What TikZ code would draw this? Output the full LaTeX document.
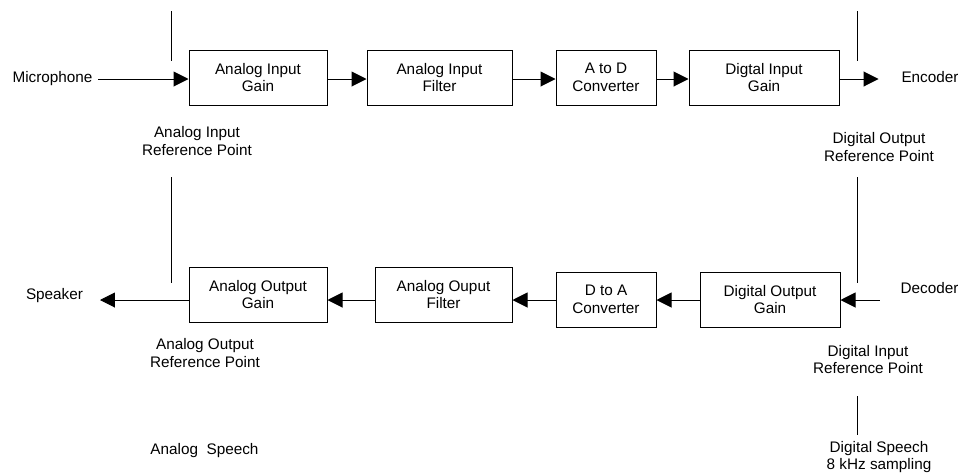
\documentclass[tikz,border=0pt]{standalone}
\usepackage{fontspec}
\setmainfont{Liberation Sans}
\usetikzlibrary{arrows.meta}
\begin{document}
\begin{tikzpicture}[x=1pt,y=-1pt,
  every node/.style={font=\fontsize{15.3}{17.5}\selectfont, inner sep=0pt, align=center},
  block/.style={draw, line width=1pt, minimum height=55pt},
  conn/.style={line width=1pt, -{Triangle[length=15pt,width=15pt]}},
  refline/.style={line width=1pt}]
\useasboundingbox (0,0) rectangle (958,472);

% signal rows
\coordinate (toprow) at (0,79);
\coordinate (botrow) at (0,300);

% input chain
\node[block, minimum width=138pt] (aig) at (258,77.5) {Analog Input\\Gain};
\node[block, minimum width=145pt] (aif) at (439.5,77.5) {Analog Input\\Filter};
\node[block, minimum width=100pt] (adc) at (606,77.5) {A to D\\Converter};
\node[block, minimum width=150pt] (dig) at (764,77.5) {Digtal Input\\Gain};

% output chain
\node[block, minimum width=138pt] (aog) at (258,294.5) {Analog Output\\Gain};
\node[block, minimum width=137pt] (aof) at (443.5,294.5) {Analog Ouput\\Filter};
\node[block, minimum width=100pt] (dac) at (606,299.5) {D to A\\Converter};
\node[block, minimum width=140pt] (dog) at (770,299.5) {Digital Output\\Gain};

% end points
\node[outer xsep=6pt] (mic) at (52.5,79) {Microphone};
\node[outer xsep=23pt] (enc) at (930,77) {Encoder};
\node[outer xsep=17pt] (spk) at (54.5,296) {Speaker};
\node[outer xsep=21pt] (dec) at (929.5,288) {Decoder};

% input connectors
\draw[conn] (mic.east |- toprow) -- (aig.west |- toprow);
\draw[conn] (aig.east |- toprow) -- (aif.west |- toprow);
\draw[conn] (aif.east |- toprow) -- (adc.west |- toprow);
\draw[conn] (adc.east |- toprow) -- (dig.west |- toprow);
\draw[conn] (dig.east |- toprow) -- (enc.west |- toprow);

% output connectors
\draw[conn] (dec.west |- botrow) -- (dog.east |- botrow);
\draw[conn] (dog.west |- botrow) -- (dac.east |- botrow);
\draw[conn] (dac.west |- botrow) -- (aof.east |- botrow);
\draw[conn] (aof.west |- botrow) -- (aog.east |- botrow);
\draw[conn] (aog.west |- botrow) -- (spk.east |- botrow);

% reference point markers
\coordinate (la1) at (171.5,11);  \coordinate (la2) at (171.5,61);
\coordinate (lb1) at (171.5,177); \coordinate (lb2) at (171.5,283);
\coordinate (ra1) at (857,11);    \coordinate (ra2) at (857,61);
\coordinate (rb1) at (857,177);   \coordinate (rb2) at (857,283);
\coordinate (rc1) at (857,396);   \coordinate (rc2) at (857,435);
\draw[refline] (la1) -- (la2);
\draw[refline] (lb1) -- (lb2);
\draw[refline] (ra1) -- (ra2);
\draw[refline] (rb1) -- (rb2);
\draw[refline] (rc1) -- (rc2);

% labels
\node (airp) at (197,141) {Analog Input\\Reference Point};
\node (dorp) at (879,147) {Digital Output\\Reference Point};
\node (aorp) at (205,353) {Analog Output\\Reference Point};
\node (dirp) at (868,359.5) {Digital Input\\Reference Point};
\node (aspeech) at (204.5,451) {Analog\ \ Speech};
\node (dspeech) at (879,457) {Digital Speech\\8 kHz sampling};
\end{tikzpicture}
\end{document}
